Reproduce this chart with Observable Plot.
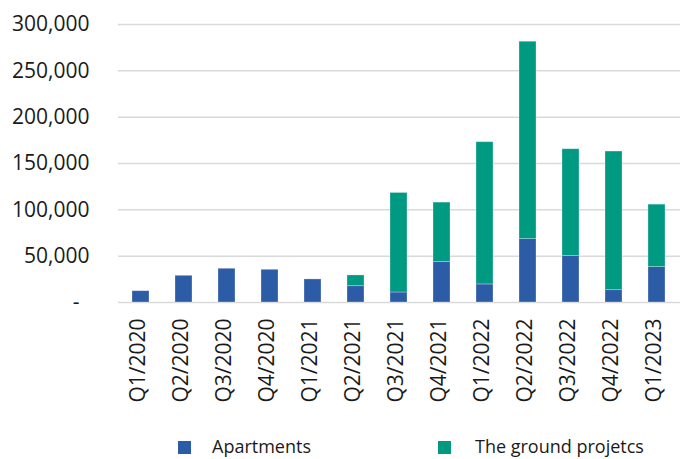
<!DOCTYPE html>
<html>
<head>
<meta charset="utf-8">
<script src="https://cdn.jsdelivr.net/npm/d3@7"></script>
<script src="https://cdn.jsdelivr.net/npm/@observablehq/plot@0.6"></script>
<style>
  body { margin: 0; background: #fff; font-family: "Open Sans", sans-serif; overflow: hidden; }
  #legend { position: relative; width: 680px; height: 34px; color: #1a1a1a; font-size: 18px; }
  #legend .sw { position: absolute; width: 13px; height: 13px; top: 16px; }
  #legend .lb { position: absolute; top: 9px; line-height: 24px; white-space: nowrap; }
</style>
</head>
<body>
<div id="chart"></div>
<div id="legend"></div>
<script>
const quarters = ["Q1/2020","Q2/2020","Q3/2020","Q4/2020","Q1/2021","Q2/2021","Q3/2021","Q4/2021","Q1/2022","Q2/2022","Q3/2022","Q4/2022","Q1/2023"];
const apartments = [12200, 28800, 36400, 35300, 24900, 17600, 10800, 43600, 19500, 68400, 50100, 13300, 38200];
const groundProjects = [0, 0, 0, 0, 0, 11600, 107400, 64200, 153500, 213000, 115300, 149600, 67400];
const seriesNames = ["Apartments", "The ground projetcs"];
const seriesColors = ["#2D5CA7", "#009A83"];
const yTicks = [50000, 100000, 150000, 200000, 250000, 300000];
const yGrid = [0, 50000, 100000, 150000, 200000, 250000, 300000];

const rows = [];
quarters.forEach((q, i) => {
  rows.push({quarter: q, series: seriesNames[0], value: apartments[i]});
  rows.push({quarter: q, series: seriesNames[1], value: groundProjects[i]});
});

const chart = Plot.plot({
  width: 680,
  height: 425,
  marginLeft: 118,
  marginRight: 0,
  marginTop: 24,
  marginBottom: 123,
  style: {fontFamily: "Open Sans, sans-serif", fontSize: "21px", color: "#1a1a1a", background: "#fff"},
  x: {domain: quarters, paddingInner: 0.6, paddingOuter: 0.3, label: null},
  y: {domain: [0, 300000], label: null},
  color: {domain: seriesNames, range: seriesColors},
  marks: [
    Plot.ruleY(yGrid, {stroke: "#d9d9d9", strokeWidth: 1.5}),
    Plot.barY(rows, {x: "quarter", y: "value", fill: "series", stroke: "#ffffff", strokeOpacity: 0.35, strokeWidth: 0.8}),
    Plot.axisY(yTicks, {tickSize: 0, tickPadding: 29, tickFormat: d => d3.format(",")(d), label: null}),
    Plot.axisY([0], {tickSize: 0, tickPadding: 39, tickFormat: () => "-", label: null}),
    Plot.axisX({tickSize: 0, tickPadding: 16, tickRotate: -90, dx: -3, label: null})
  ]
});
document.getElementById("chart").appendChild(chart);

const legend = document.getElementById("legend");
const legendPos = [[178, 212], [438, 475]];
seriesNames.forEach((name, i) => {
  const sw = document.createElement("div");
  sw.className = "sw";
  sw.style.left = legendPos[i][0] + "px";
  sw.style.background = seriesColors[i];
  legend.appendChild(sw);
  const lb = document.createElement("div");
  lb.className = "lb";
  lb.style.left = legendPos[i][1] + "px";
  lb.textContent = name;
  legend.appendChild(lb);
});
</script>
</body>
</html>
